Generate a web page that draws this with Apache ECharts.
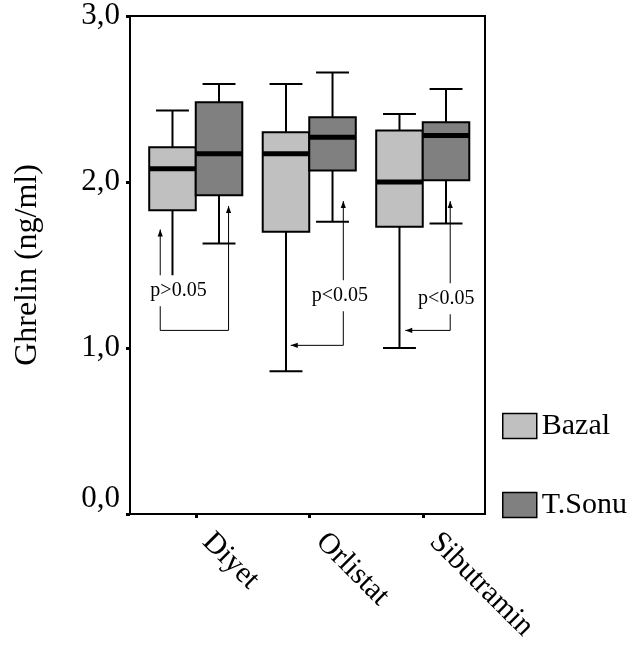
<!DOCTYPE html>
<html>
<head>
<meta charset="utf-8">
<script src="https://cdn.jsdelivr.net/npm/echarts@6/dist/echarts.min.js"></script>
<style>
  html, body { margin: 0; padding: 0; background: #fff; }
  #chart { width: 643px; height: 652px; }
</style>
</head>
<body>
<div id="chart"></div>
<script>
// groups on the x axis
const categories = ['Diyet', 'Orlistat', 'Sibutramin']
const seriesNames = ['Bazal', 'T.Sonu']

// [min, Q1, median, Q3, max] per group
const bazal = [
  [1.35, 1.83, 2.08, 2.21, 2.43],
  [0.86, 1.70, 2.17, 2.30, 2.59],
  [1.00, 1.73, 2.00, 2.31, 2.41]
]
const tSonu = [
  [1.63, 1.92, 2.17, 2.48, 2.59],
  [1.76, 2.07, 2.27, 2.39, 2.66],
  [1.75, 2.01, 2.28, 2.36, 2.56]
]

const yTickLabels = ['0,0', '1,0', '2,0', '3,0']
const pLabels = ['p>0.05', 'p<0.05', 'p<0.05']

// bracket paths: [offset within band, value]
const bracketPaths = [
  [[-0.313, 1.714], [-0.313, 1.106], [0.289, 1.106], [0.289, 1.855]],
  [[0.30, 1.885], [0.30, 1.016], [-0.163, 1.016]],
  [[0.242, 1.885], [0.242, 1.106], [-0.154, 1.106]]
]
const pLabelPos = [[-0.152, 1.345], [0.27, 1.315], [0.207, 1.297]]

const FONT = '"Liberation Serif", "DejaVu Serif", serif'
const colors = ['#c0c0c0', '#808080']

function boxRenderer(side, color) {
  return function (params, api) {
    const cat = api.value(0)
    const band = api.size([1, 0])[0]
    const boxW = band * 0.41
    const capW = band * 0.29
    const cx = api.coord([cat, 0])[0] + side * boxW / 2
    const y = (i) => api.coord([cat, api.value(i)])[1]
    const yMin = y(1), yQ1 = y(2), yMed = y(3), yQ3 = y(4), yMax = y(5)
    const line = (x1, y1, x2, y2, w) => ({
      type: 'line',
      shape: { x1, y1, x2, y2 },
      style: { stroke: '#000', lineWidth: w }
    })
    return {
      type: 'group',
      children: [
        line(cx, yMax, cx, yQ3, 2),
        line(cx, yQ1, cx, yMin, 2),
        line(cx - capW / 2, yMax, cx + capW / 2, yMax, 2),
        line(cx - capW / 2, yMin, cx + capW / 2, yMin, 2),
        {
          type: 'rect',
          shape: { x: cx - boxW / 2, y: yQ3, width: boxW, height: yQ1 - yQ3 },
          style: { fill: color, stroke: '#000', lineWidth: 2 }
        },
        line(cx - boxW / 2, yMed, cx + boxW / 2, yMed, 5)
      ]
    }
  }
}

function arrowHead(tip, from) {
  const dx = tip[0] - from[0]
  const dy = tip[1] - from[1]
  const len = Math.hypot(dx, dy) || 1
  const ux = dx / len, uy = dy / len
  const L = 7, W = 2.6
  const bx = tip[0] - ux * L, by = tip[1] - uy * L
  return {
    type: 'polygon',
    shape: { points: [tip, [bx - uy * W, by + ux * W], [bx + uy * W, by - ux * W]] },
    style: { fill: '#000' }
  }
}

function bracketRenderer(params, api) {
  const cat = api.value(0)
  const band = api.size([1, 0])[0]
  const cx = api.coord([cat, 0])[0]
  const toPx = (p) => [cx + p[0] * band, api.coord([cat, p[1]])[1]]
  const pts = bracketPaths[cat].map(toPx)
  const lp = toPx(pLabelPos[cat])
  return {
    type: 'group',
    children: [
      { type: 'polyline', shape: { points: pts }, style: { stroke: '#000', lineWidth: 1, fill: null } },
      arrowHead(pts[0], pts[1]),
      arrowHead(pts[pts.length - 1], pts[pts.length - 2]),
      {
        type: 'text',
        x: lp[0],
        y: lp[1],
        style: {
          text: pLabels[cat],
          fontFamily: FONT,
          fontSize: 20,
          fill: '#000',
          align: 'center',
          verticalAlign: 'middle',
          backgroundColor: '#fff',
          padding: [10, 2, 1, 2]
        }
      }
    ]
  }
}

const chart = echarts.init(document.getElementById('chart'))

chart.setOption({
  animation: false,
  backgroundColor: '#fff',
  textStyle: { fontFamily: FONT, color: '#000' },
  legend: {
    orient: 'vertical',
    left: 497,
    top: 406,
    itemWidth: 34,
    itemHeight: 25,
    itemGap: 49,
    icon: 'rect',
    textStyle: { fontFamily: FONT, fontSize: 30, color: '#000', lineHeight: 30 },
    data: seriesNames.map((n, i) => ({
      name: n,
      itemStyle: { color: colors[i], borderColor: '#000', borderWidth: 1.5 }
    }))
  },
  grid: [
    { left: 130, top: 16, width: 355, height: 498, show: true, borderColor: '#000', borderWidth: 2 },
    { left: 139, top: 16, width: 340.5, height: 498 }
  ],
  xAxis: [
    { type: 'value', gridIndex: 0, show: false, min: 0, max: 1 },
    {
      type: 'category',
      gridIndex: 1,
      data: categories,
      axisLine: { show: false },
      axisTick: { show: true, alignWithLabel: true, length: 4, lineStyle: { color: '#000', width: 3 } },
      axisLabel: {
        rotate: -45,
        margin: 12,
        padding: [0, 0, 0, 16],
        fontFamily: FONT,
        fontSize: 30,
        color: '#000',
        interval: 0
      },
      splitLine: { show: false }
    }
  ],
  yAxis: [
    {
      type: 'value',
      gridIndex: 0,
      min: 0,
      max: 3,
      interval: 1,
      name: 'Ghrelin (ng/ml)',
      nameLocation: 'middle',
      nameGap: 86,
      nameTextStyle: { fontFamily: FONT, fontSize: 32, color: '#000' },
      axisLine: { show: true, lineStyle: { color: '#000', width: 2 } },
      axisTick: { show: true, length: 4, lineStyle: { color: '#000', width: 3 } },
      axisLabel: {
        margin: 10,
        fontFamily: FONT,
        fontSize: 31,
        color: '#000',
        formatter: (v) => (v === 0 ? yTickLabels[0] + '\n ' : yTickLabels[Math.round(v)])
      },
      splitLine: { show: false }
    },
    { type: 'value', gridIndex: 1, min: 0, max: 3, show: false }
  ],
  series: [
    {
      name: seriesNames[0],
      type: 'custom',
      xAxisIndex: 1,
      yAxisIndex: 1,
      itemStyle: { color: colors[0] },
      renderItem: boxRenderer(-1, colors[0]),
      data: bazal.map((d, i) => [i, ...d])
    },
    {
      name: seriesNames[1],
      type: 'custom',
      xAxisIndex: 1,
      yAxisIndex: 1,
      itemStyle: { color: colors[1] },
      renderItem: boxRenderer(1, colors[1]),
      data: tSonu.map((d, i) => [i, ...d])
    },
    {
      type: 'custom',
      xAxisIndex: 1,
      yAxisIndex: 1,
      z: 5,
      silent: true,
      renderItem: bracketRenderer,
      data: categories.map((c, i) => [i, 0])
    }
  ]
})

window.addEventListener('resize', () => chart.resize())
</script>
</body>
</html>
